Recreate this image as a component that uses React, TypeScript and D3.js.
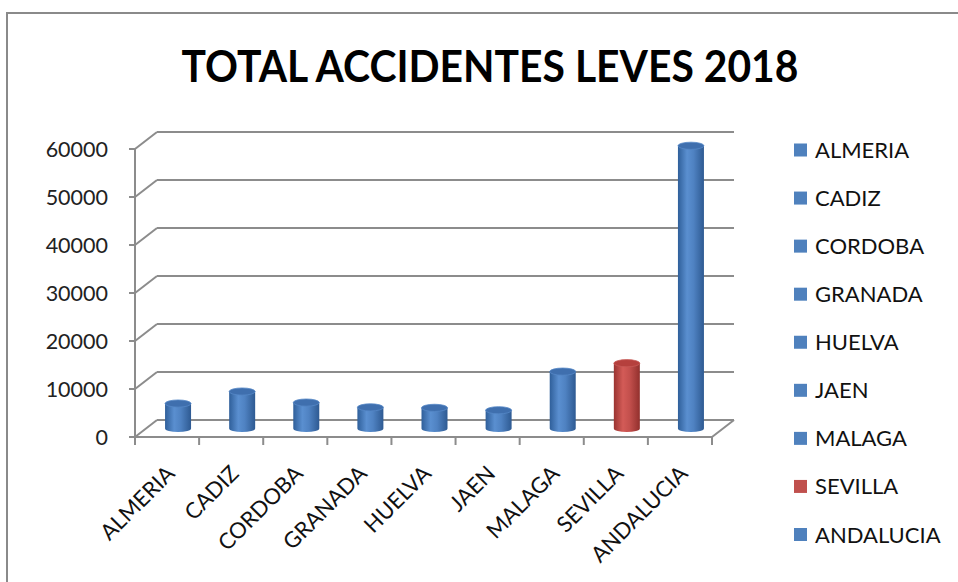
import * as d3 from "d3";

const categories = ["ALMERIA", "CADIZ", "CORDOBA", "GRANADA", "HUELVA", "JAEN", "MALAGA", "SEVILLA", "ANDALUCIA"];
const values = [5200, 7700, 5400, 4400, 4300, 3800, 11850, 13600, 58900];
const highlight = ["SEVILLA"];
const yTicks = [0, 10000, 20000, 30000, 40000, 50000, 60000];
const title = "TOTAL ACCIDENTES LEVES 2018";

const FONT = "Lato, 'Open Sans', sans-serif";

export default function App() {
  const width = 958;
  const height = 582;
  const dx = 22;
  const dy = -17;

  const x = d3.scaleBand<string>().domain(categories).range([135, 712]).paddingInner(0).paddingOuter(0);
  const y = d3.scaleLinear().domain([0, 60000]).range([437, 149]);
  const bw = x.bandwidth();
  const rx = 13;
  const ry = 3.6;

  const legendY = d3.scalePoint<string>().domain(categories).range([150.5, 535]);

  const grey = "#8c8c8c";

  return (
    <svg width={width} height={height} style={{ position: "absolute", left: 0, top: 0 }}>
      <defs>
        <linearGradient id="gBlue" x1="0" x2="1" y1="0" y2="0">
          <stop offset="0" stopColor="#2f5f9a" />
          <stop offset="0.35" stopColor="#5a8fd0" />
          <stop offset="0.6" stopColor="#4f82c2" />
          <stop offset="1" stopColor="#2e5a92" />
        </linearGradient>
        <linearGradient id="gRed" x1="0" x2="1" y1="0" y2="0">
          <stop offset="0" stopColor="#9a3431" />
          <stop offset="0.35" stopColor="#d35b57" />
          <stop offset="0.6" stopColor="#c4504d" />
          <stop offset="1" stopColor="#92302d" />
        </linearGradient>
      </defs>
      <rect x={0} y={0} width={width} height={height} fill="#fff" />
      {/* chart border */}
      <path d={`M7,${height + 5} V13 H${width + 5}`} fill="none" stroke="#8a8a8a" strokeWidth={2} />

      <text x={490} y={82} textAnchor="middle" fontFamily={FONT} fontWeight={700} fontSize={44}
        textLength={617} lengthAdjust="spacingAndGlyphs" fill="#000">{title}</text>

      {/* back wall gridlines and left wall diagonals */}
      {yTicks.map((t) => (
        <g key={t}>
          <line x1={135 + dx} x2={712 + dx} y1={y(t) + dy} y2={y(t) + dy} stroke={grey} strokeWidth={2} />
          <line x1={135} x2={135 + dx} y1={y(t)} y2={y(t) + dy} stroke={grey} strokeWidth={2} />
          <line x1={129} x2={135} y1={y(t)} y2={y(t)} stroke={grey} strokeWidth={2} />
          <text x={108} y={y(t) + 7.5} textAnchor="end" fontFamily={FONT} fontSize={21.5} fill="#222">{t}</text>
        </g>
      ))}
      {/* value axis */}
      <line x1={135} x2={135} y1={y(60000)} y2={y(0)} stroke={grey} strokeWidth={2} />
      {/* floor front edge and right side */}
      <line x1={135} x2={712} y1={y(0)} y2={y(0)} stroke={grey} strokeWidth={2} />
      <line x1={712} x2={712 + dx} y1={y(0)} y2={y(0) + dy} stroke={grey} strokeWidth={2} />
      {/* category ticks */}
      {[...categories.map((c) => x(c)!), 712].map((tx, i) => (
        <line key={i} x1={tx} x2={tx} y1={y(0)} y2={y(0) + 8} stroke={grey} strokeWidth={2} />
      ))}

      {/* cylinders */}
      {categories.map((c, i) => {
        const cx = x(c)! + bw / 2 + dx / 2;
        const yb = y(0) + dy / 2;
        const yt = y(values[i]) + dy / 2;
        const red = highlight.includes(c);
        const fill = red ? "url(#gRed)" : "url(#gBlue)";
        const topFill = red ? "#b5403d" : "#3f6fae";
        const body = `M${cx - rx},${yt} L${cx - rx},${yb} A${rx},${ry} 0 0 0 ${cx + rx},${yb} L${cx + rx},${yt} Z`;
        return (
          <g key={c}>
            <path d={body} fill={fill} />
            <ellipse cx={cx} cy={yt} rx={rx} ry={ry} fill={topFill} stroke={red ? "#c85a57" : "#5688c6"} strokeWidth={0.8} />
          </g>
        );
      })}

      {/* category labels */}
      {categories.map((c) => (
        <text key={c} transform={`translate(${x(c)! + bw / 2 + 9},${475}) rotate(-45)`} textAnchor="end"
          fontFamily={FONT} fontSize={22} fill="#111">{c}</text>
      ))}

      {/* legend */}
      {categories.map((c) => (
        <g key={c} transform={`translate(0,${legendY(c)})`}>
          <rect x={794} y={-7} width={13} height={13} fill={highlight.includes(c) ? "#c0504d" : "#4f81bd"} />
          <text x={815} y={7.5} fontFamily={FONT} fontSize={22} fill="#111">{c}</text>
        </g>
      ))}
    </svg>
  );
}
